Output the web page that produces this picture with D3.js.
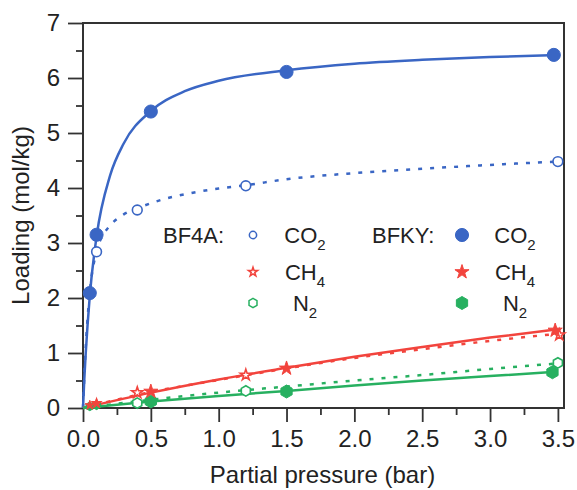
<!DOCTYPE html>
<html>
<head>
<meta charset="utf-8">
<title>Loading isotherms</title>
<style>
	body { margin: 0; background: #fff; }
	text { font-family: "Liberation Sans", Arial, sans-serif; fill: #222; }
	.tick line { stroke: #333; stroke-width: 1.8; }
</style>
</head>
<body>
<svg id="canvas" width="577" height="490"></svg>
<script src="https://cdn.jsdelivr.net/npm/d3@7/dist/d3.min.js"></script>
<script>
// measured points [pressure (bar), loading (mol/kg)]
let bf4aCO2 = [[0.1, 2.84], [0.4, 3.6], [1.2, 4.04], [3.5, 4.48]];
let bfkyCO2 = [[0.05, 2.09], [0.1, 3.15], [0.5, 5.39], [1.5, 6.11], [3.47, 6.42]];
let bf4aCH4 = [[0.1, 0.09], [0.4, 0.28], [1.2, 0.6], [3.51, 1.33]];
let bfkyCH4 = [[0.05, 0.05], [0.1, 0.08], [0.5, 0.3], [1.5, 0.72], [3.48, 1.41]];
let bf4aN2 = [[0.1, 0.05], [0.4, 0.09], [1.2, 0.31], [3.5, 0.82]];
let bfkyN2 = [[0.05, 0.03], [0.1, 0.05], [0.5, 0.12], [1.5, 0.3], [3.46, 0.65]];

// fitted curves
let bfkyCO2Fit = [[0, 0], [0.01, 0.54], [0.02, 0.99], [0.05, 2.04], [0.1, 3.12], [0.2, 4.23], [0.3, 4.81],
	[0.5, 5.4], [0.75, 5.76], [1.0, 5.95], [1.5, 6.14], [2.0, 6.26], [2.5, 6.33], [3.0, 6.38], [3.5, 6.42]];
let bf4aCO2Fit = [[0, 0], [0.01, 0.6], [0.02, 1.1], [0.05, 2.1], [0.1, 2.85], [0.15, 3.15], [0.2, 3.32],
	[0.3, 3.52], [0.4, 3.63], [0.6, 3.8], [0.8, 3.91], [1.0, 3.99], [1.2, 4.05], [1.5, 4.16], [2.0, 4.27],
	[2.5, 4.35], [3.0, 4.42], [3.5, 4.48]];
let bfkyCH4Fit = [[0, 0], [0.5, 0.28], [1.0, 0.52], [1.5, 0.73], [2.0, 0.93], [2.5, 1.11], [3.0, 1.28], [3.5, 1.43]];
let bf4aCH4Fit = [[0, 0], [0.5, 0.29], [1.0, 0.51], [1.5, 0.72], [2.0, 0.91], [2.5, 1.07], [3.0, 1.22], [3.5, 1.35]];
let bfkyN2Fit = [[0, 0], [0.5, 0.12], [1.0, 0.22], [1.5, 0.31], [2.0, 0.41], [2.5, 0.5], [3.0, 0.58], [3.5, 0.66]];
let bf4aN2Fit = [[0, 0], [0.5, 0.15], [1.0, 0.28], [1.5, 0.39], [2.0, 0.5], [2.5, 0.6], [3.0, 0.71], [3.5, 0.81]];

let xTicks = [0, 0.5, 1.0, 1.5, 2.0, 2.5, 3.0, 3.5];
let yTicks = [0, 1, 2, 3, 4, 5, 6, 7];
let gases = [["CO", "2"], ["CH", "4"], ["N", "2"]];
let samples = ["BF4A:", "BFKY:"];

let blue = "#3a66c4", red = "#f2443d", green = "#27b060";

let svg = d3.select("#canvas");
let pLeft = 83, pRight = 564, pTop = 23, pBottom = 408;

let x = d3.scaleLinear().domain([0, 3.545]).range([pLeft, pRight]);
let y = d3.scaleLinear().domain([0, 7]).range([pBottom, pTop]);

// hexagon marker (pointy top)
let symbolHex = {
	draw(ctx, size) {
		let r = Math.sqrt(size / 2.598);
		for (let i = 0; i < 6; i++) {
			let a = Math.PI / 3 * i - Math.PI / 2;
			if (i) ctx.lineTo(r * Math.cos(a), r * Math.sin(a));
			else ctx.moveTo(r * Math.cos(a), r * Math.sin(a));
		}
		ctx.closePath();
	}
};

// axes
svg.append("g").attr("transform", "translate(0," + pBottom + ")")
	.call(d3.axisBottom(x).tickValues(xTicks).tickSize(14).tickPadding(8).tickFormat(d3.format(".1f")));
svg.append("g").attr("transform", "translate(0," + pBottom + ")")
	.call(d3.axisBottom(x).tickValues(xTicks.slice(0, -1).map(d => d + 0.25)).tickSize(7).tickFormat(""));
svg.append("g").attr("transform", "translate(" + pLeft + ",0)")
	.call(d3.axisLeft(y).tickValues(yTicks).tickSize(15).tickPadding(8).tickFormat(d3.format("d")));
svg.append("g").attr("transform", "translate(" + pLeft + ",0)")
	.call(d3.axisLeft(y).tickValues(yTicks.slice(0, -1).map(d => d + 0.5)).tickSize(7).tickFormat(""));
svg.selectAll(".domain").remove();
svg.selectAll(".tick text").attr("font-size", 24).attr("font-family", null).style("fill", "#222");

svg.append("rect")
	.attr("x", pLeft).attr("y", pTop)
	.attr("width", pRight - pLeft).attr("height", pBottom - pTop)
	.attr("fill", "none").attr("stroke", "#333").attr("stroke-width", 2);

// axis titles
svg.append("text")
	.attr("x", (pLeft + pRight) / 2 - 1).attr("y", 483)
	.attr("text-anchor", "middle").attr("font-size", 24)
	.text("Partial pressure (bar)");
svg.append("text")
	.attr("transform", "translate(29," + (pTop + pBottom) / 2 + ") rotate(-90)")
	.attr("text-anchor", "middle").attr("font-size", 24)
	.text("Loading (mol/kg)");

// fit lines
let line = d3.line().x(d => x(d[0])).y(d => y(d[1])).curve(d3.curveMonotoneX);
let fits = [
	[bfkyCO2Fit, blue, null], [bf4aCO2Fit, blue, "4,8"],
	[bfkyCH4Fit, red, null], [bf4aCH4Fit, red, "4,8"],
	[bfkyN2Fit, green, null], [bf4aN2Fit, green, "4,8"]
];
svg.append("g").selectAll("path").data(fits).join("path")
	.attr("d", d => line(d[0]))
	.attr("fill", "none")
	.attr("stroke", d => d[1])
	.attr("stroke-width", 2.5)
	.attr("stroke-dasharray", d => d[2]);

// markers
let series = [
	{ data: bf4aN2, type: symbolHex, size: 70, color: green, open: true },
	{ data: bfkyN2, type: symbolHex, size: 110, color: green, open: false },
	{ data: bf4aCH4, type: d3.symbolStar, size: 38, color: red, open: true },
	{ data: bfkyCH4, type: d3.symbolStar, size: 62, color: red, open: false },
	{ data: bf4aCO2, type: d3.symbolCircle, size: 75, color: blue, open: true },
	{ data: bfkyCO2, type: d3.symbolCircle, size: 135, color: blue, open: false }
];
series.forEach(s => {
	let small = d3.symbol().type(s.type).size(s.size * 0.45);
	let big = d3.symbol().type(s.type).size(s.size);
	svg.append("g").selectAll("path").data(s.data).join("path")
		.attr("transform", d => "translate(" + x(d[0]) + "," + y(d[1]) + ")")
		.attr("d", d => d[0] < 0.2 && s.type !== d3.symbolCircle ? small() : big())
		.attr("fill", s.open ? "#fff" : s.color)
		.attr("stroke", s.color)
		.attr("stroke-width", s.open ? 1.6 : 1);
});

// legend
let legend = svg.append("g");
let rowsY = [235, 272, 303];
let legendMarks = [
	[{ type: d3.symbolCircle, size: 42 }, { type: d3.symbolStar, size: 26 }, { type: symbolHex, size: 55 }],
	[{ type: d3.symbolCircle, size: 135 }, { type: d3.symbolStar, size: 62 }, { type: symbolHex, size: 110 }]
];
let colX = [[163, 253, 305], [372, 462, 515]];
let colColors = [blue, red, green];
samples.forEach((name, c) => {
	legend.append("text")
		.attr("x", colX[c][0]).attr("y", rowsY[0] + 8)
		.attr("font-size", 22)
		.text(name);
	gases.forEach((g, r) => {
		let m = legendMarks[c][r];
		legend.append("path")
			.attr("transform", "translate(" + colX[c][1] + "," + rowsY[r] + ")")
			.attr("d", d3.symbol().type(m.type).size(m.size)())
			.attr("fill", c === 0 ? "#fff" : colColors[r])
			.attr("stroke", colColors[r])
			.attr("stroke-width", c === 0 ? 1.5 : 1);
		let t = legend.append("text")
			.attr("x", colX[c][2]).attr("y", rowsY[r] + 8)
			.attr("text-anchor", "middle").attr("font-size", 22);
		t.append("tspan").text(g[0]);
		t.append("tspan").attr("font-size", 15).attr("dy", 7).text(g[1]);
	});
});
</script>
</body>
</html>
